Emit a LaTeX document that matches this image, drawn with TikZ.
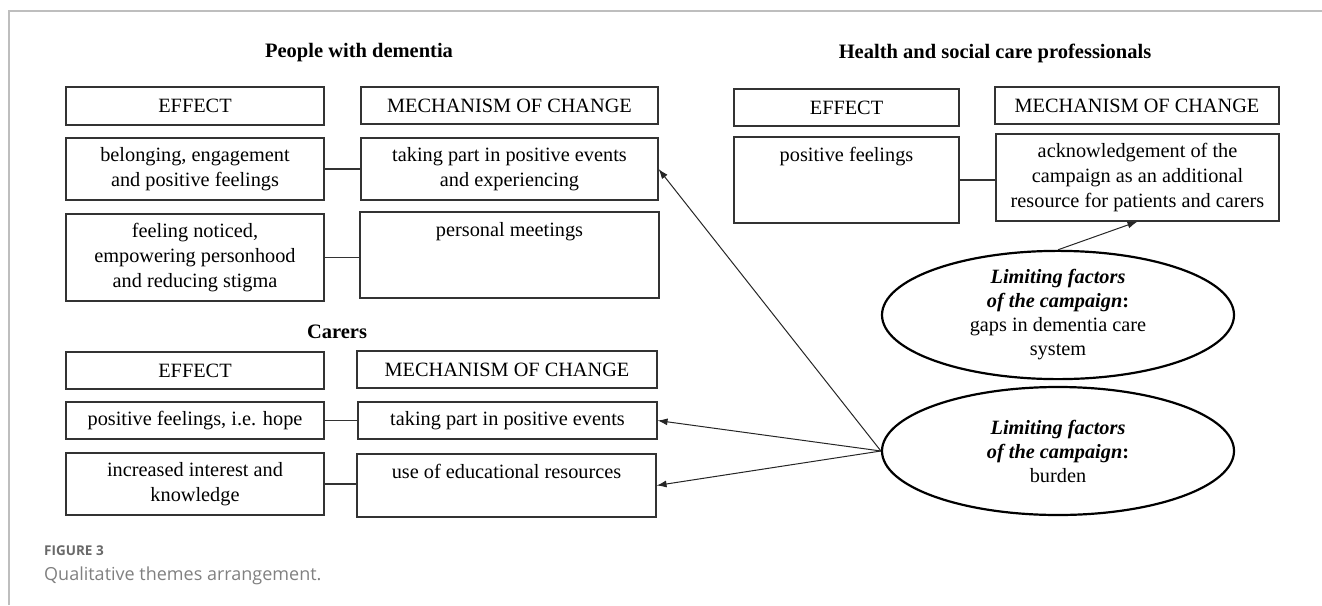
\documentclass[tikz,border=0pt]{standalone}
\usepackage{fontspec}
\setmainfont{Liberation Serif}
\newfontfamily\captionfont{Open Sans}
\usetikzlibrary{shapes.geometric,arrows.meta}
\definecolor{framegray}{RGB}{190,190,190}
\definecolor{captiongray}{RGB}{105,105,105}
\begin{document}
\begin{tikzpicture}[x=1pt, y=-1pt,
    cell/.style={draw=black!80, line width=1.1pt, rectangle, inner sep=0pt, align=center, font=\fontsize{20.3}{25}\selectfont},
    toptext/.style={text height=24pt, text depth=#1},
    factor/.style={draw=black, line width=2.2pt, ellipse, inner sep=0pt, align=center, minimum width=352pt, font=\fontsize{20.3}{24}\selectfont},
    group/.style={font=\fontsize{20.5}{25}\selectfont\bfseries},
    link/.style={draw=black!80, line width=1.1pt},
    hit/.style={draw=black!85, line width=1pt, -{Latex[length=10pt,width=7pt]}}]
  \useasboundingbox (0,0) rectangle (1322,605);
  \draw[framegray, line width=2pt] (9,605) -- (9,11) -- (1322,11);

  \node[group] (dTitle) at (359,53) {People with dementia};
  \node[group] (hTitle) at (995,53) {Health and social care professionals};
  \node[group] (cTitle) at (337,332) {Carers};

  \node[cell, minimum width=258pt, minimum height=38pt] (dE0) at (195,106) {EFFECT};
  \node[cell, minimum width=297pt, minimum height=37pt] (dM0) at (509.5,105.5) {MECHANISM OF CHANGE};
  \node[cell, minimum width=258pt, minimum height=62pt] (dE1) at (195,169) {belonging, engagement\\and positive feelings};
  \node[cell, minimum width=297pt, minimum height=62pt] (dM1) at (509.5,169) {taking part in positive events\\and experiencing};
  \node[cell, minimum width=258pt, minimum height=87pt] (dE2) at (195,257.5) {feeling noticed,\\empowering personhood\\and reducing stigma};
  \node[cell, toptext=62pt, minimum width=299pt, minimum height=86pt] (dM2) at (509.5,255) {personal meetings};

  \node[cell, minimum width=258pt, minimum height=37pt] (cE0) at (195,370.5) {EFFECT};
  \node[cell, minimum width=300pt, minimum height=37pt] (cM0) at (507,369.5) {MECHANISM OF CHANGE};
  \node[cell, minimum width=258pt, minimum height=37pt] (cE1) at (195,420.5) {positive feelings, i.e. hope};
  \node[cell, minimum width=299pt, minimum height=37pt] (cM1) at (507.5,420.5) {taking part in positive events};
  \node[cell, minimum width=258pt, minimum height=62pt] (cE2) at (195,484) {increased interest and\\knowledge};
  \node[cell, toptext=39pt, minimum width=299pt, minimum height=63pt] (cM2) at (506.5,485.5) {use of educational resources};

  \node[cell, minimum width=225pt, minimum height=37pt] (hE0) at (846.5,107.5) {EFFECT};
  \node[cell, minimum width=284pt, minimum height=37pt] (hM0) at (1137,105.5) {MECHANISM OF CHANGE};
  \node[cell, toptext=62pt, minimum width=225pt, minimum height=86pt] (hE1) at (846.5,180) {positive feelings};
  \node[cell, minimum width=283pt, minimum height=87pt] (hM1) at (1137.5,177.5) {acknowledgement of the\\campaign as an additional\\resource for patients and carers};

  \node[factor, minimum height=120pt] (gaps) at (1058,315) {\textbf{\textit{Limiting factors}}\\\textbf{\textit{of the campaign}:}\\gaps in dementia care\\system};
  \node[factor, minimum height=128pt] (burden) at (1058,451) {\textbf{\textit{Limiting factors}}\\\textbf{\textit{of the campaign}:}\\burden};

  \begin{scope}[link]
    \draw (dE1.east) -- (dE1.east -| dM1.west);
    \draw (dE2.east) -- (dE2.east -| dM2.west);
    \draw (cE1.east) -- (cE1.east -| cM1.west);
    \draw (cE2.east) -- (cE2.east -| cM2.west);
    \draw (hE1.east) -- (hE1.east -| hM1.west);
  \end{scope}
  \begin{scope}[hit]
    \draw (burden.west) -- (dM1.east);
    \draw (burden.west) -- (cM1.east);
    \draw (burden.west) -- (cM2.east);
    \draw (gaps.north) -- (hM1.south);
  \end{scope}

  \node[anchor=base west, inner sep=0pt, text=captiongray, font=\captionfont\fontsize{13.5}{16}\selectfont\bfseries] (figLabel) at (44,555) {FIGURE 3};
  \node[anchor=base west, inner sep=0pt, text=captiongray!85, font=\captionfont\fontsize{18}{20}\selectfont] (figCaption) at (44,580) {Qualitative themes arrangement.};
\end{tikzpicture}
\end{document}
